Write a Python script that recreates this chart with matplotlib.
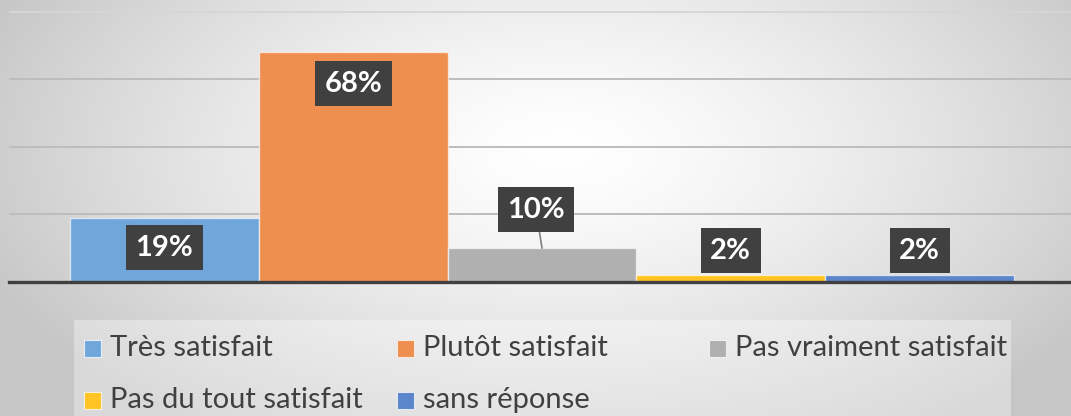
import numpy as np
import matplotlib
matplotlib.use("Agg")
import matplotlib.pyplot as plt
from matplotlib.patches import Rectangle

# ---- data ----
series = ["Très satisfait", "Plutôt satisfait", "Pas vraiment satisfait",
          "Pas du tout satisfait", "sans réponse"]
values = [19, 68, 10, 2, 2]
labels = ["19%", "68%", "10%", "2%", "2%"]
colors = ["#70A7DB", "#EF8F4F", "#B0B0B0", "#FFC423", "#5B86CB"]
yticks = [0, 20, 40, 60, 80]

W, H = 1071, 416
fig = plt.figure(figsize=(W / 100, H / 100), dpi=100)

# radial gradient background
bg = fig.add_axes([0, 0, 1, 1], zorder=-10)
yy, xx = np.mgrid[0:H, 0:W]
cx, cy = 560, 150
d = np.sqrt(((xx - cx) / 620.0) ** 2 + ((yy - cy) / 330.0) ** 2)
d = np.clip(d, 0, 1)
v = 1.0 - 0.22 * d ** 1.4
img = np.dstack([v, v, v])
bg.imshow(img, extent=[0, W, H, 0], aspect="auto", interpolation="bilinear")
bg.set_xlim(0, W)
bg.set_ylim(H, 0)
bg.axis("off")

# legend background box
bg.add_patch(Rectangle((74, 320), 1011 - 74, 100, facecolor="white",
                       alpha=0.35, edgecolor="none"))

# main axes
ax = fig.add_axes([9 / W, (H - 282) / H, (W - 9) / W, 282 / H])
ax.patch.set_alpha(0)
x = np.arange(len(values))
bars = ax.bar(x, values, width=1.0, color=colors,
              edgecolor=(1, 1, 1, 0.6), linewidth=1.0, zorder=3)
ax.set_xlim(-0.5 - 61 / 188.8, 4.5 + 57 / 188.8)
ax.set_ylim(0, 282 / 67.6 * 20)
ax.set_yticks(yticks)
ax.set_xticks([])
ax.tick_params(left=False, labelleft=False)
for s in ["top", "right", "left"]:
    ax.spines[s].set_visible(False)
ax.spines["bottom"].set_color("#404040")
ax.spines["bottom"].set_linewidth(2.4)
ax.spines["bottom"].set_zorder(5)
ax.yaxis.grid(True, color="#bdbdbd", linewidth=1.4, zorder=0)
ax.set_axisbelow(True)
gl = ax.yaxis.get_gridlines()
gl[-1].set_color("#d6d6d6")

# data labels (dx, dy offsets in pixels of the box centre from bar top)
offsets = [(0, -30), (0, -31.5), (-6, 38.5), (0, 24.5), (0, 24.5)]
for i, (val, lab) in enumerate(zip(values, labels)):
    dx, dy = offsets[i]
    kw = {}
    if i == 2:
        kw["arrowprops"] = dict(arrowstyle="-", color="#7f7f7f", lw=1.2,
                                shrinkA=0, shrinkB=0)
    ax.annotate(lab, xy=(x[i], val), xytext=(dx, dy), textcoords="offset pixels",
                ha="center", va="center", fontsize=21, fontweight="bold",
                family="Lato", color="white", zorder=6,
                bbox=dict(boxstyle="square,pad=0.33", facecolor="#404040",
                          edgecolor="none"), **kw)

# manual legend (Excel-like equal column layout)
col_x = [84, 397, 709]
row_y = [348, 400]
for i, name in enumerate(series):
    r, c = divmod(i, 3)
    sx, sy = col_x[c], row_y[r]
    bg.add_patch(Rectangle((sx, sy - 8.5), 17, 17, facecolor=colors[i],
                           edgecolor=(1, 1, 1, 0.7), linewidth=0.8))
    bg.text(sx + 26, sy, name, ha="left", va="center", fontsize=21,
            family="Lato", color="#404040")

fig.savefig("out.png", dpi=100)
